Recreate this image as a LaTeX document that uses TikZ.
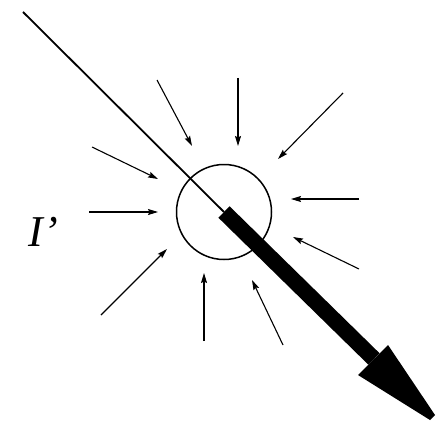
\documentclass[tikz,border=0pt]{standalone}
\usepackage{fontspec}
\setmainfont{Liberation Serif}
\usetikzlibrary{arrows.meta}
\begin{document}
\begin{tikzpicture}[x=1pt,y=-1pt,
  inarrow/.style={line width=1.1pt,-{Stealth[length=10pt,width=6pt,inset=1.5pt]}},
  ring/.style={circle,draw,line width=1.5pt,minimum size=95pt,inner sep=0pt}]
\useasboundingbox (0,0) rectangle (443,425);
\node[ring] (c) at (224,212) {};
\coordinate (start) at (23,12);
\coordinate (barstart) at (224,212);
\coordinate (barend) at (374,359);
\coordinate (hl) at (358,375);
\coordinate (hr) at (388,345);
\coordinate (tl) at (430,420);
\coordinate (tr) at (435,415);
\draw[line width=1.8pt] (start) -- (barstart);
\draw[line width=16pt] (barstart) -- (barend);
\fill (hl) -- (hr) -- (tr) -- (tl) -- cycle;
% incoming arrows
\coordinate (a1s) at (157,80);  \coordinate (a1e) at (192,146);
\coordinate (a2s) at (238,78);  \coordinate (a2e) at (238,146);
\coordinate (a3s) at (343,93);  \coordinate (a3e) at (278,159);
\coordinate (a4s) at (359,199); \coordinate (a4e) at (291,199);
\coordinate (a5s) at (359,269); \coordinate (a5e) at (293,237);
\coordinate (a6s) at (283,345); \coordinate (a6e) at (252,280);
\coordinate (a7s) at (204,341); \coordinate (a7e) at (204,273);
\coordinate (a8s) at (101,315); \coordinate (a8e) at (167,249);
\coordinate (a9s) at (89,212);  \coordinate (a9e) at (158,212);
\coordinate (a10s) at (92,147); \coordinate (a10e) at (158,179);
\foreach \i in {1,...,10} {\draw[inarrow] (a\i s) -- (a\i e);}
\node[font=\itshape\fontsize{44}{44}\selectfont] (lab) at (43,232) {I’};
\end{tikzpicture}
\end{document}
